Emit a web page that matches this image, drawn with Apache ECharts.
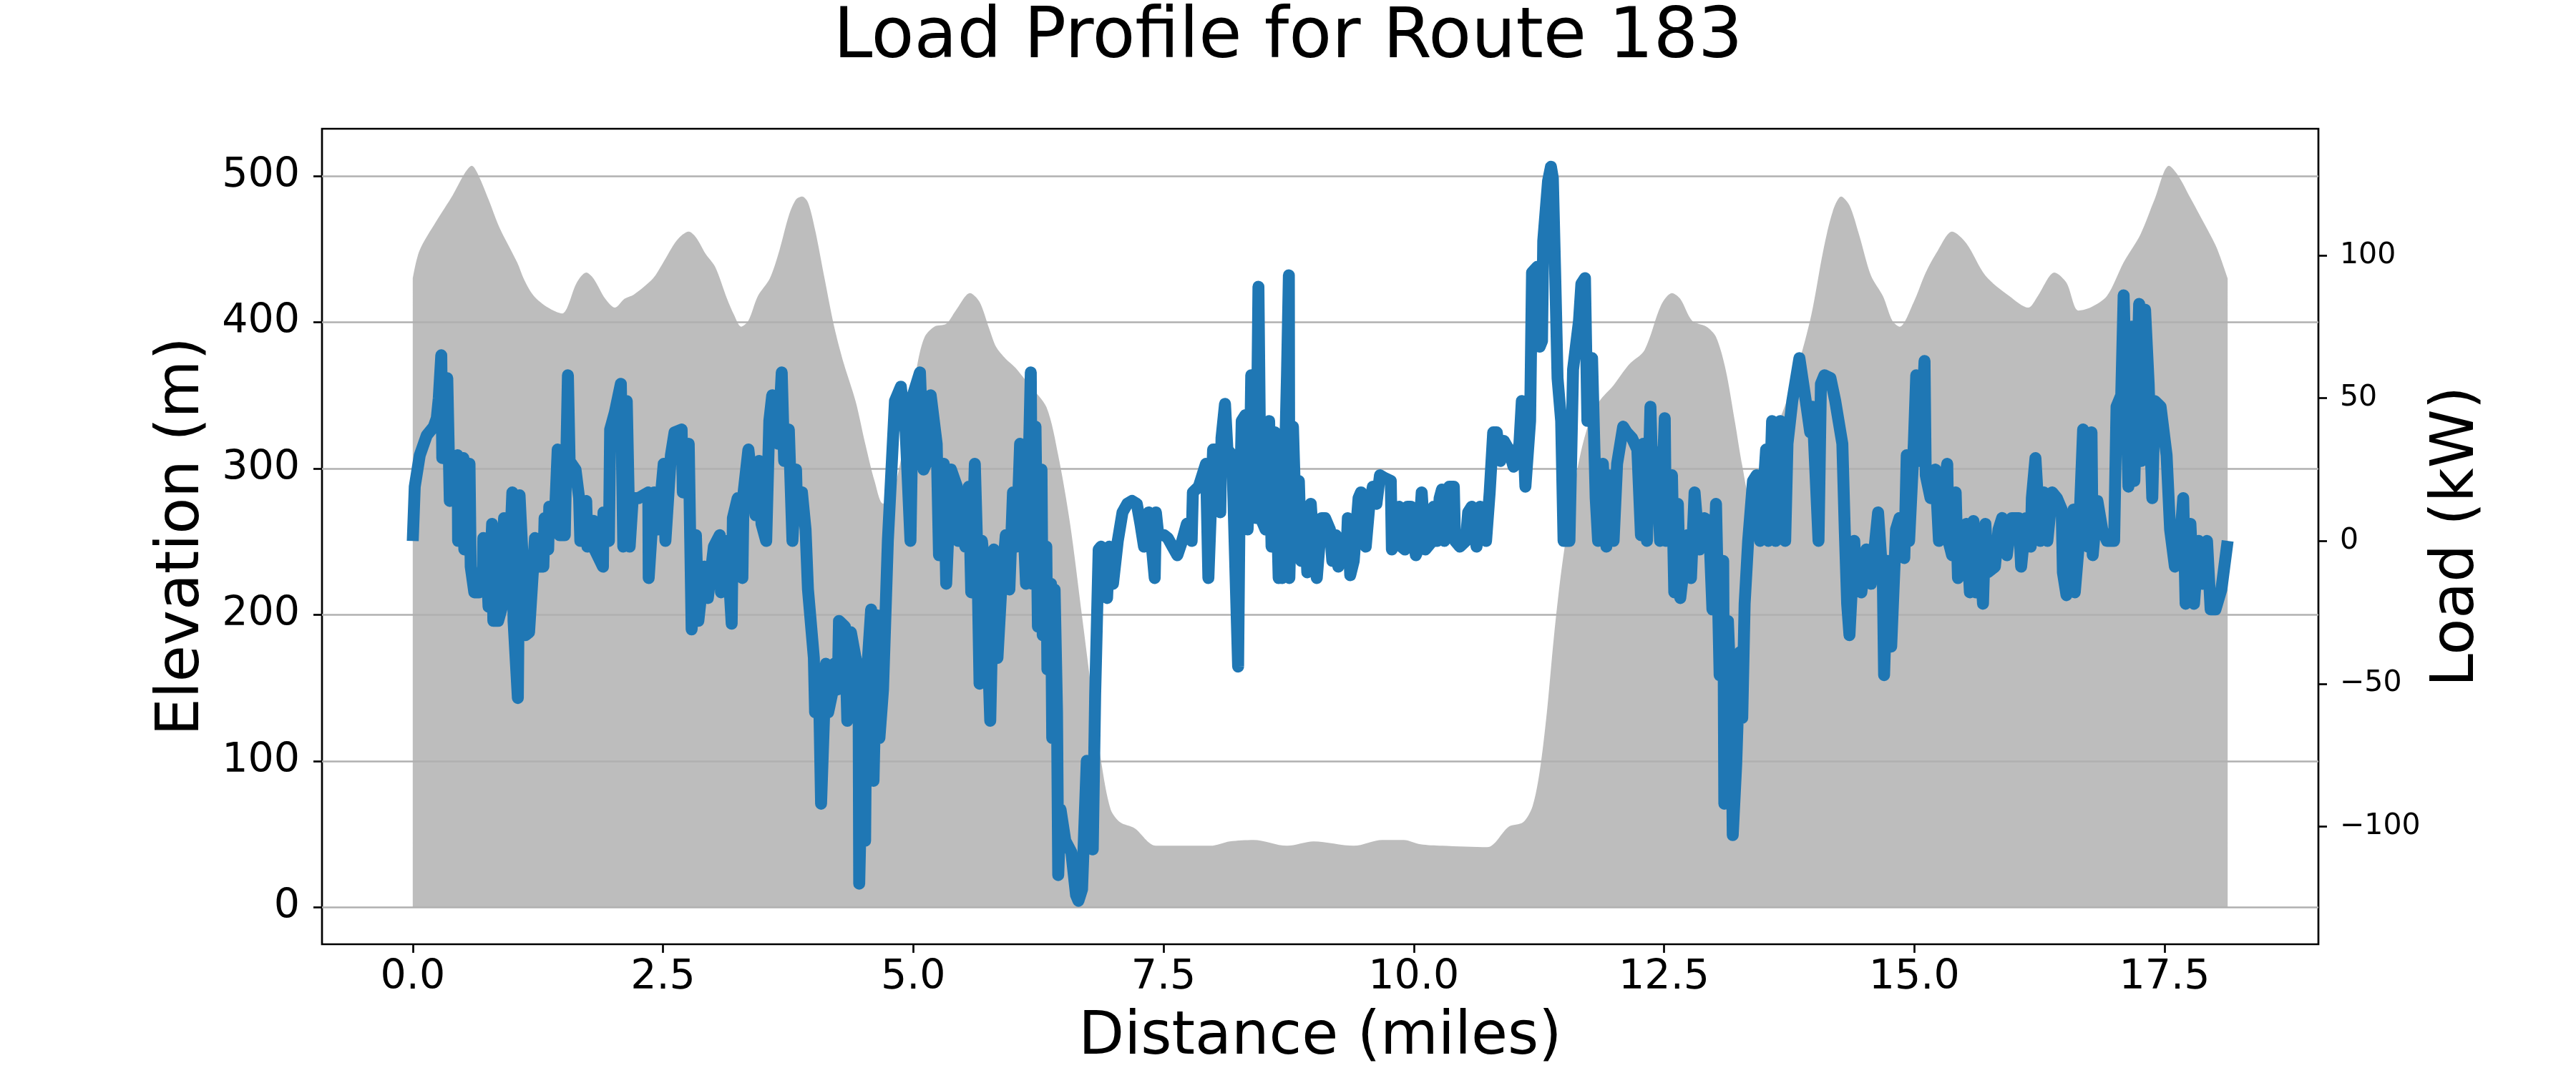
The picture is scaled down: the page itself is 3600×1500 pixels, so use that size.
<!DOCTYPE html>
<html style="height: 100%">
<head>
<meta charset="utf-8">
</head>
<body style="height: 100%; margin: 0; background: #fff">
<div id="container" style="width: 3600px; height: 1500px"></div>
<script type="text/javascript" src="https://cdn.jsdelivr.net/npm/echarts@6/dist/echarts.min.js"></script>
<script type="text/javascript">
// elevation along the route: [miles, metres]
var elevationProfile = [
  [0, 430], [0.067, 449], [0.234, 469], [0.4, 487], [0.52, 502], [0.59, 507], [0.66, 500],
  [0.757, 484], [0.852, 467], [0.9, 460], [1.043, 441], [1.114, 429], [1.21, 418], [1.352, 410],
  [1.495, 406], [1.543, 410], [1.638, 427], [1.733, 434], [1.805, 430], [1.924, 416], [2.02, 410],
  [2.114, 416], [2.21, 419], [2.4, 430], [2.495, 440], [2.638, 456], [2.757, 462], [2.83, 458],
  [2.924, 447], [3.02, 438], [3.14, 416], [3.21, 405], [3.28, 397], [3.352, 401], [3.448, 418],
  [3.567, 430], [3.662, 449], [3.757, 473], [3.829, 484], [3.89, 486], [3.948, 482], [4.02, 463],
  [4.114, 430], [4.21, 397], [4.305, 372], [4.424, 346], [4.52, 317], [4.615, 291], [4.698, 276],
  [4.78, 280], [4.852, 298], [4.948, 331], [5.043, 372], [5.114, 390], [5.21, 397], [5.33, 399],
  [5.424, 408], [5.567, 420], [5.662, 414], [5.757, 396], [5.829, 383], [5.924, 375], [6.02, 369],
  [6.16, 357], [6.33, 342], [6.448, 309], [6.567, 262], [6.686, 199], [6.781, 148], [6.876, 100],
  [6.971, 67], [7.067, 58], [7.21, 54], [7.424, 42], [7.97, 42], [8.162, 45], [8.4, 46],
  [8.733, 42], [9.0, 45], [9.4, 42], [9.686, 46], [9.9, 46], [10.067, 43], [10.28, 42],
  [10.734, 41], [10.948, 55], [11.091, 58], [11.186, 69], [11.258, 93], [11.329, 133], [11.4, 185],
  [11.472, 229], [11.567, 273], [11.662, 309], [11.758, 333], [11.853, 346], [11.996, 357], [12.091, 366],
  [12.162, 372], [12.305, 381], [12.472, 412], [12.579, 420], [12.662, 416], [12.781, 401], [12.924, 397],
  [13.019, 390], [13.114, 368], [13.21, 331], [13.281, 302], [13.352, 282], [13.495, 309], [13.686, 339],
  [13.829, 368], [13.971, 405], [14.09, 449], [14.186, 476], [14.269, 486], [14.352, 480], [14.448, 460],
  [14.567, 432], [14.686, 418], [14.781, 401], [14.853, 397], [14.995, 414], [15.114, 434], [15.234, 449],
  [15.377, 462], [15.52, 454], [15.71, 432], [15.948, 418], [16.139, 410], [16.234, 418], [16.4, 434],
  [16.52, 427], [16.639, 408], [16.758, 410], [16.924, 418], [17.091, 441], [17.258, 460], [17.4, 484],
  [17.544, 507], [17.639, 500], [17.758, 485], [17.9, 467], [18.02, 451], [18.13, 430]
];

// load along the route: [miles, kW]
var loadTrace = [
  [0, 0], [0.02, 19], [0.07, 30], [0.14, 37], [0.21, 40], [0.24, 43], [0.26, 50], [0.285, 65],
  [0.295, 29], [0.33, 33], [0.345, 57], [0.37, 14], [0.4, 28], [0.448, 30], [0.453, 0], [0.507, 29],
  [0.515, -3], [0.567, 27], [0.579, -9], [0.615, -18], [0.662, -18], [0.698, -16], [0.705, 1], [0.745, -13],
  [0.757, -23], [0.793, 6], [0.805, -28], [0.853, -28], [0.9, -22], [0.912, 8], [0.96, -13], [0.995, 17],
  [1.007, -28], [1.05, -55], [1.067, 16], [1.102, -9], [1.126, -33], [1.162, -32], [1.221, 1], [1.257, -9],
  [1.305, -9], [1.317, 8], [1.353, -3], [1.364, 12], [1.424, 12], [1.448, 32], [1.467, 2], [1.519, 2],
  [1.55, 58], [1.567, 28], [1.626, 25], [1.662, 15], [1.674, 0], [1.733, 14], [1.745, -2], [1.805, 7],
  [1.817, -3], [1.9, -9], [1.905, 10], [1.96, 0], [1.972, 39], [2.019, 45], [2.079, 55], [2.103, -2],
  [2.138, 49], [2.167, -2], [2.198, 15], [2.257, 15], [2.353, 17], [2.357, -13], [2.412, 17], [2.448, 4],
  [2.507, 27], [2.524, 0], [2.579, 30], [2.615, 38], [2.686, 39], [2.698, 17], [2.757, 34], [2.786, -31],
  [2.829, 2], [2.853, -28], [2.912, -9], [2.948, -20],
  [3.008, -2], [3.067, 2], [3.079, -18], [3.127, -17], [3.138, 0], [3.186, -29], [3.198, 8], [3.246, 15],
  [3.293, -13], [3.305, 17], [3.353, 32], [3.424, 9], [3.46, 28], [3.484, 6], [3.531, 0], [3.562, 42],
  [3.591, 51], [3.65, 34], [3.686, 59], [3.71, 28], [3.757, 39], [3.793, 0], [3.829, 25], [3.841, 8],
  [3.888, 17], [3.924, 4], [3.948, -17], [4.007, -41], [4.019, -60], [4.055, -45], [4.079, -92], [4.127, -43],
  [4.15, -60], [4.198, -52], [4.21, -43], [4.246, -52], [4.258, -28], [4.317, -30], [4.341, -63], [4.377, -32],
  [4.424, -41], [4.453, -45], [4.46, -120], [4.484, -82], [4.519, -105], [4.531, -50], [4.579, -24], [4.603, -84],
  [4.638, -26], [4.662, -69], [4.698, -52], [4.746, 0], [4.817, 49], [4.876, 54], [4.924, 38], [4.972, 0],
  [4.996, 51], [5.067, 59], [5.103, 25], [5.127, 27], [5.174, 51], [5.234, 34], [5.257, -5], [5.305, 27],
  [5.329, -15], [5.377, 25], [5.436, 19], [5.448, 0], [5.508, 15], [5.519, -2], [5.555, 19], [5.579, -18],
  [5.615, 27], [5.638, -2], [5.662, -50], [5.686, 0], [5.722, -13], [5.769, -63], [5.805, -3], [5.841, -41],
  [5.877, -18], [5.924, 2], [5.96, -17], [5.996, 17], [6.031, -2],
  [6.067, 34], [6.114, -5], [6.126, -15], [6.174, 59], [6.186, -15], [6.221, 40], [6.245, -30], [6.281, 25],
  [6.293, -33], [6.329, -2], [6.34, -45], [6.376, -15], [6.388, -69], [6.412, -17], [6.436, -60], [6.448, -117],
  [6.471, -94], [6.519, -105], [6.579, -109], [6.626, -124], [6.65, -126], [6.686, -122], [6.733, -77], [6.757, -102],
  [6.793, -108], [6.817, -54], [6.852, -3], [6.876, -2], [6.936, -20], [6.959, -2], [6.995, -15], [7.043, 0],
  [7.09, 10], [7.138, 13], [7.186, 14], [7.233, 13], [7.269, 6], [7.305, -2], [7.352, 10], [7.412, -13],
  [7.424, 10], [7.448, 2], [7.507, 2], [7.543, 1], [7.59, -2], [7.638, -5], [7.686, 0], [7.733, 6],
  [7.781, 0], [7.793, 17], [7.852, 19], [7.924, 27], [7.948, -13], [7.995, 32], [8.031, 32], [8.067, 10],
  [8.079, 36], [8.114, 48], [8.138, 32], [8.186, 30], [8.245, -44], [8.257, 2], [8.281, 42], [8.317, 44],
  [8.34, 4], [8.364, 27], [8.376, 58], [8.424, 8], [8.448, 89], [8.471, 8], [8.519, 4], [8.555, 42],
  [8.579, -2], [8.614, 38], [8.65, -13], [8.662, 19], [8.686, -13], [8.733, 58], [8.752, 93], [8.757, -13],
  [8.793, 40], [8.829, -3], [8.852, 21], [8.876, -7], [8.912, 12], [8.936, -11], [8.971, 13], [9.007, -7],
  [9.031, -13], [9.079, 8], [9.114, 8],
  [9.162, 4], [9.186, -7], [9.222, 2], [9.246, -9], [9.281, -2], [9.329, -3], [9.341, 8], [9.365, -12],
  [9.4, -7], [9.424, 4], [9.448, 15], [9.472, 17], [9.496, 0], [9.52, -2], [9.555, 12], [9.591, 19],
  [9.627, 13], [9.662, 23], [9.71, 22], [9.77, 21], [9.781, -3], [9.853, 12], [9.877, -2], [9.912, -3],
  [9.936, 12], [9.972, 12], [10.02, -5], [10.043, -3], [10.079, 17], [10.115, -3], [10.186, 0], [10.198, 12],
  [10.234, 0], [10.258, 15], [10.281, 18], [10.305, 0], [10.353, 19], [10.4, 19], [10.412, 0], [10.46, -2],
  [10.52, 0], [10.543, 10], [10.579, 12], [10.627, -2], [10.662, 12], [10.722, 0], [10.758, 17], [10.793, 38],
  [10.829, 38], [10.865, 28], [10.9, 35], [10.948, 32], [10.996, 26], [11.055, 34], [11.079, 49], [11.115, 19],
  [11.162, 42], [11.181, 94], [11.234, 96], [11.258, 68], [11.281, 70], [11.293, 105], [11.341, 126], [11.37, 131],
  [11.389, 127], [11.412, 94], [11.436, 57], [11.472, 42], [11.496, 0], [11.555, 0], [11.591, 60], [11.65, 77],
  [11.674, 90], [11.71, 92], [11.734, 42], [11.781, 64], [11.817, 15], [11.841, 0], [11.889, 27], [11.924, -2],
  [11.948, 23], [11.996, 0], [12.031, 27], [12.091, 40], [12.127, 38],
  [12.18, 36], [12.233, 32], [12.269, 2], [12.293, 34], [12.329, 0], [12.364, 47], [12.388, 15], [12.424, 31],
  [12.46, 0], [12.507, 43], [12.519, 0], [12.579, 23], [12.602, -18], [12.638, 13], [12.662, -20], [12.698, -9],
  [12.733, 2], [12.769, -13], [12.805, 17], [12.852, -3], [12.9, 8], [12.948, 7], [12.983, -24], [13.019, 13],
  [13.055, -47], [13.091, -7], [13.102, -92], [13.138, -28], [13.174, -60], [13.186, -103], [13.221, -78], [13.257, -39],
  [13.281, -62], [13.305, -22], [13.34, 0], [13.388, 21], [13.424, 23], [13.46, 0], [13.519, 32], [13.543, 0],
  [13.579, 42], [13.614, 0], [13.662, 42], [13.71, 0], [13.733, 34], [13.781, 49], [13.852, 64], [13.924, 47],
  [13.96, 38], [13.983, 47], [14.043, 0], [14.067, 55], [14.102, 58], [14.162, 57], [14.21, 49], [14.281, 34],
  [14.305, 4], [14.329, -22], [14.352, -33], [14.4, 0], [14.424, -17], [14.471, -18], [14.519, -3], [14.567, -15],
  [14.638, 10], [14.686, -15], [14.698, -47], [14.733, -7], [14.769, -37], [14.817, 4], [14.852, 8], [14.9, -6],
  [14.924, 30], [14.948, 0], [14.995, 34], [15.019, 58], [15.055, 28], [15.102, 63], [15.114, 23], [15.162, 15],
  [15.21, 25],
  [15.246, 0], [15.282, 17], [15.329, 27], [15.341, 0], [15.377, -5], [15.413, 17], [15.436, -13], [15.472, 4],
  [15.52, 6], [15.555, -18], [15.591, 7], [15.615, -18], [15.651, 0], [15.686, -22], [15.71, 6], [15.734, -11],
  [15.805, -9], [15.841, 4], [15.877, 8], [15.924, -5], [15.972, 8], [16.044, 8], [16.067, -9], [16.115, 8],
  [16.163, -2], [16.174, 15], [16.21, 29], [16.258, 0], [16.294, 17], [16.329, 0], [16.377, 17], [16.424, 15],
  [16.472, 11], [16.484, -11], [16.52, -19], [16.544, 0], [16.591, 11], [16.603, -18], [16.639, -3], [16.686, 39],
  [16.734, -2], [16.77, 38], [16.782, -5], [16.829, 14], [16.877, 4], [16.924, 0], [16.996, 0], [17.02, 47],
  [17.067, 51], [17.091, 86], [17.139, 19], [17.174, 75], [17.198, 21], [17.246, 83], [17.27, 28], [17.305, 81],
  [17.341, 55], [17.377, 15], [17.401, 49], [17.46, 47], [17.52, 30], [17.555, 4], [17.603, -9], [17.639, -7],
  [17.686, 15], [17.71, -22], [17.758, 6], [17.794, -22], [17.841, 0], [17.877, -15], [17.924, 0], [17.96, -24],
  [18.008, -24], [18.067, -17], [18.13, 0]
];

var distanceTicks = [0, 2.5, 5, 7.5, 10, 12.5, 15, 17.5];
var elevationTicks = [0, 100, 200, 300, 400, 500];
var loadTicks = [-100, -50, 0, 50, 100];

// axis extents
var distanceRange = [-0.9065, 19.0365];
var elevationRange = [-25.35, 532.35];
var loadRange = [-141.2, 144.3];

var dom = document.getElementById("container");
var myChart = echarts.init(dom, null, {renderer: 'canvas'});

var FONT = 'DejaVu Sans';
var tickStyle = {show: true, length: 12, inside: false, lineStyle: {color: '#000', width: 2.7}};

function minusSign(v) {
    return String(v).replace('-', '\u2212');
}

var option = {
    backgroundColor: '#fff',
    animation: false,
    textStyle: {fontFamily: FONT, color: '#000'},
    title: {
        text: 'Load Profile for Route 183',
        left: 'center',
        top: 10,
        textStyle: {fontFamily: FONT, fontSize: 98, lineHeight: 80, fontWeight: 'normal', color: '#000'}
    },
    grid: {
        left: 450, right: 360, top: 180, bottom: 180,
        show: true, borderColor: '#000', borderWidth: 2.7, backgroundColor: 'transparent'
    },
    xAxis: {
        type: 'value',
        position: 'bottom',
        min: distanceRange[0],
        max: distanceRange[1],
        name: 'Distance (miles)',
        nameLocation: 'middle',
        nameGap: 90,
        nameMoveOverlap: false,
        nameTextStyle: {fontFamily: FONT, fontSize: 83, lineHeight: 83, color: '#000'},
        axisLine: {show: false, onZero: false},
        axisTick: Object.assign({customValues: distanceTicks}, tickStyle),
        axisLabel: {
            customValues: distanceTicks,
            margin: 19,
            fontFamily: FONT, fontSize: 57, lineHeight: 57, color: '#000',
            formatter: function (v) { return v.toFixed(1); }
        },
        splitLine: {show: false}
    },
    yAxis: [
        {
            type: 'value',
            position: 'left',
            z: 3,
            min: elevationRange[0],
            max: elevationRange[1],
            name: 'Elevation (m)',
            nameLocation: 'middle',
            nameGap: 153,
            nameMoveOverlap: false,
            nameTextStyle: {fontFamily: FONT, fontSize: 83, lineHeight: 83, color: '#000'},
            axisLine: {show: false, onZero: false},
            axisTick: Object.assign({customValues: elevationTicks}, tickStyle),
            axisLabel: {
                customValues: elevationTicks,
                margin: 31,
                fontFamily: FONT, fontSize: 57, color: '#000',
                formatter: function (v) { return String(v); }
            },
            splitLine: {show: true, lineStyle: {color: '#b0b0b0', width: 2.7}}
        },
        {
            type: 'value',
            position: 'right',
            min: loadRange[0],
            max: loadRange[1],
            name: 'Load (kW)',
            nameLocation: 'middle',
            nameGap: 153,
            nameMoveOverlap: false,
            nameTextStyle: {fontFamily: FONT, fontSize: 83, lineHeight: 83, color: '#000'},
            axisLine: {show: false, onZero: false},
            axisTick: Object.assign({customValues: loadTicks}, tickStyle),
            axisLabel: {
                customValues: loadTicks,
                margin: 30,
                fontFamily: FONT, fontSize: 41, color: '#000',
                formatter: minusSign
            },
            splitLine: {show: false}
        }
    ],
    series: [
        {
            name: 'Elevation',
            type: 'line',
            yAxisIndex: 0,
            data: elevationProfile,
            smooth: 0.3,
            symbol: 'none',
            showSymbol: false,
            silent: true,
            z: 2,
            lineStyle: {width: 0},
            areaStyle: {color: '#bdbdbd', opacity: 1}
        },
        {
            name: 'Load',
            type: 'line',
            yAxisIndex: 1,
            data: loadTrace,
            symbol: 'none',
            showSymbol: false,
            z: 4,
            lineStyle: {color: '#1f77b4', width: 16.7, join: 'round', cap: 'butt'}
        }
    ]
};

if (option && typeof option === "object") {
    myChart.setOption(option, true);
}
</script>
</body>
</html>
